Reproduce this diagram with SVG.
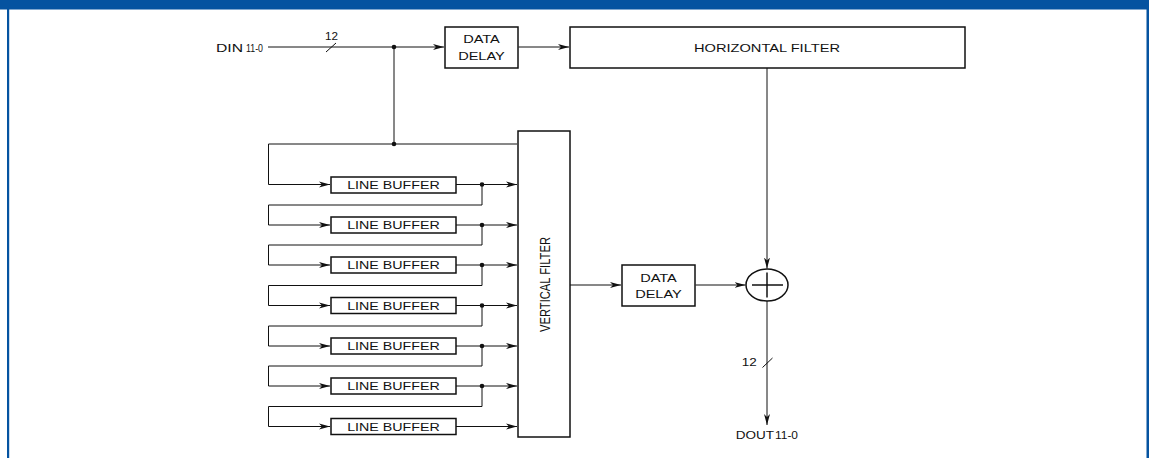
<svg xmlns="http://www.w3.org/2000/svg" width="1149" height="458" viewBox="0 0 1149 458">
<style>
.t{font-family:"Liberation Sans",Arial,sans-serif;font-size:11px;fill:#111;}
.c{text-anchor:middle;}
.box{fill:#fff;stroke:#111;stroke-width:1.5;}
.w{fill:none;stroke:#111;stroke-width:1;}
</style>
<defs>
<marker id="ah" markerWidth="12" markerHeight="8" refX="11" refY="4" orient="auto" markerUnits="userSpaceOnUse">
<path d="M0,1 L11,4 L0,7 L3,4 Z" fill="#111"/>
</marker>
</defs>
<rect x="0" y="0" width="1149" height="458" fill="#fff"/>
<g id="frame">
<rect x="0" y="0" width="1149" height="9.5" fill="#0553a0"/>
<rect x="7" y="9" width="2.2" height="449" fill="#0553a0"/>
<rect x="1146.5" y="9" width="2.5" height="449" fill="#0553a0"/>
</g>
<g id="connectors">
<line class="w" x1="268" y1="47" x2="444" y2="47" marker-end="url(#ah)"/>
<line class="w" x1="326" y1="52" x2="336" y2="43"/>
<line class="w" x1="394" y1="47" x2="394" y2="144"/>
<circle cx="394" cy="47" r="2.3" fill="#111"/>
<line class="w" x1="518.5" y1="47" x2="569" y2="47" marker-end="url(#ah)"/>
<line class="w" x1="767" y1="68" x2="767" y2="268.5" marker-end="url(#ah)"/>
<path class="w" d="M517,144 H268.5 V184.5 H330" marker-end="url(#ah)"/>
<circle cx="394" cy="144" r="2.3" fill="#111"/>
<path class="w" d="M456,184.5 H517" marker-end="url(#ah)"/>
<path class="w" d="M482,184.5 V205 H268.5 V225 H330" marker-end="url(#ah)"/>
<circle cx="482" cy="184.5" r="2.3" fill="#111"/>
<path class="w" d="M456,225 H517" marker-end="url(#ah)"/>
<path class="w" d="M482,225 V245 H268.5 V265 H330" marker-end="url(#ah)"/>
<circle cx="482" cy="225" r="2.3" fill="#111"/>
<path class="w" d="M456,265 H517" marker-end="url(#ah)"/>
<path class="w" d="M482,265 V285.5 H268.5 V305.5 H330" marker-end="url(#ah)"/>
<circle cx="482" cy="265" r="2.3" fill="#111"/>
<path class="w" d="M456,305.5 H517" marker-end="url(#ah)"/>
<path class="w" d="M482,305.5 V326 H268.5 V346 H330" marker-end="url(#ah)"/>
<circle cx="482" cy="305.5" r="2.3" fill="#111"/>
<path class="w" d="M456,346 H517" marker-end="url(#ah)"/>
<path class="w" d="M482,346 V366 H268.5 V386 H330" marker-end="url(#ah)"/>
<circle cx="482" cy="346" r="2.3" fill="#111"/>
<path class="w" d="M456,386 H517" marker-end="url(#ah)"/>
<path class="w" d="M482,386 V406.5 H268.5 V426.5 H330" marker-end="url(#ah)"/>
<circle cx="482" cy="386" r="2.3" fill="#111"/>
<path class="w" d="M456,426.5 H517" marker-end="url(#ah)"/>
<line class="w" x1="570" y1="285" x2="621" y2="285" marker-end="url(#ah)"/>
<line class="w" x1="695.5" y1="285" x2="745.5" y2="285" marker-end="url(#ah)"/>
<line class="w" x1="767" y1="301" x2="767" y2="425" marker-end="url(#ah)"/>
<line class="w" x1="762.5" y1="367.5" x2="772.5" y2="358"/>
</g>
<g id="din">
<text class="t" x="216" y="52" font-size="13" textLength="27" lengthAdjust="spacingAndGlyphs">DIN</text>
<text class="t" x="246" y="52" font-size="8.5" textLength="17" lengthAdjust="spacingAndGlyphs">11-0</text>
<text class="t" x="325" y="39.5" font-size="10.5" textLength="13" lengthAdjust="spacingAndGlyphs">12</text>
</g>
<g id="delay1">
<rect class="box" x="445" y="27" width="73" height="41"/>
<text class="t c" x="481.5" y="43.3" textLength="36.7" lengthAdjust="spacingAndGlyphs">DATA</text>
<text class="t c" x="481.5" y="60" textLength="46.7" lengthAdjust="spacingAndGlyphs">DELAY</text>
</g>
<g id="hfilter">
<rect class="box" x="570" y="27" width="395" height="41"/>
<text class="t c" x="767" y="52.3" textLength="146" lengthAdjust="spacingAndGlyphs">HORIZONTAL FILTER</text>
</g>
<g id="vfilter">
<rect class="box" x="518" y="131" width="52" height="306"/>
<text class="t c" font-size="10.5" transform="translate(550,284.5) scale(1.3,1) rotate(-90)" textLength="95" lengthAdjust="spacingAndGlyphs">VERTICAL FILTER</text>
</g>
<g id="lb1"><rect class="box" x="331" y="177" width="125" height="16"/><text class="t c" x="393.5" y="189" textLength="92.7" lengthAdjust="spacingAndGlyphs">LINE BUFFER</text></g>
<g id="lb2"><rect class="box" x="331" y="217" width="125" height="16"/><text class="t c" x="393.5" y="229" textLength="92.7" lengthAdjust="spacingAndGlyphs">LINE BUFFER</text></g>
<g id="lb3"><rect class="box" x="331" y="257" width="125" height="16"/><text class="t c" x="393.5" y="269" textLength="92.7" lengthAdjust="spacingAndGlyphs">LINE BUFFER</text></g>
<g id="lb4"><rect class="box" x="331" y="297.5" width="125" height="16"/><text class="t c" x="393.5" y="309.5" textLength="92.7" lengthAdjust="spacingAndGlyphs">LINE BUFFER</text></g>
<g id="lb5"><rect class="box" x="331" y="338" width="125" height="16"/><text class="t c" x="393.5" y="350" textLength="92.7" lengthAdjust="spacingAndGlyphs">LINE BUFFER</text></g>
<g id="lb6"><rect class="box" x="331" y="378" width="125" height="16"/><text class="t c" x="393.5" y="390" textLength="92.7" lengthAdjust="spacingAndGlyphs">LINE BUFFER</text></g>
<g id="lb7"><rect class="box" x="331" y="418.5" width="125" height="16"/><text class="t c" x="393.5" y="430.5" textLength="92.7" lengthAdjust="spacingAndGlyphs">LINE BUFFER</text></g>
<g id="delay2">
<rect class="box" x="622" y="265" width="73" height="41"/>
<text class="t c" x="658.5" y="281.7" textLength="36.7" lengthAdjust="spacingAndGlyphs">DATA</text>
<text class="t c" x="658.5" y="298.3" textLength="46.7" lengthAdjust="spacingAndGlyphs">DELAY</text>
</g>
<g id="adder">
<ellipse cx="767" cy="285" rx="21" ry="16" fill="#fff" stroke="#111" stroke-width="1.5"/>
<line x1="752" y1="285" x2="783" y2="285" stroke="#111" stroke-width="1.5"/>
<line x1="767" y1="272.5" x2="767" y2="297.5" stroke="#111" stroke-width="1.5"/>
</g>
<g id="dout">
<text class="t" x="741.7" y="366" font-size="10.5" textLength="15" lengthAdjust="spacingAndGlyphs">12</text>
<text class="t" x="735.7" y="439.3" font-size="12.5" textLength="38.3" lengthAdjust="spacingAndGlyphs">DOUT</text>
<text class="t" x="775" y="439.3" font-size="8.5" textLength="23" lengthAdjust="spacingAndGlyphs">11-0</text>
</g>
</svg>
